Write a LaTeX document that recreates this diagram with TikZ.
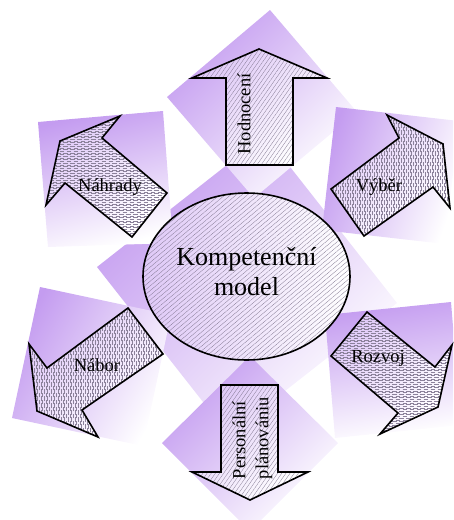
\documentclass[tikz,border=0pt]{standalone}
\usepackage{fontspec}
\setmainfont{Liberation Serif}
\usetikzlibrary{patterns,patterns.meta}
\definecolor{purp}{RGB}{196,156,240}
\definecolor{hatch}{RGB}{120,110,135}
\definecolor{dhatch}{RGB}{140,130,155}
\pgfdeclarepatternformonly{hdash}{\pgfqpoint{-1pt}{-1pt}}{\pgfqpoint{8pt}{4.4pt}}{\pgfqpoint{7pt}{3.4pt}}{%
  \pgfsetlinewidth{0.25pt}%
  \pgfpathmoveto{\pgfqpoint{0pt}{0pt}}\pgfpathlineto{\pgfqpoint{4.5pt}{0pt}}%
  \pgfpathmoveto{\pgfqpoint{3.5pt}{1.7pt}}\pgfpathlineto{\pgfqpoint{7pt}{1.7pt}}%
  \pgfpathmoveto{\pgfqpoint{0pt}{1.7pt}}\pgfpathlineto{\pgfqpoint{1pt}{1.7pt}}%
  \pgfusepath{stroke}}
\pgfdeclarepatternformonly{vdash}{\pgfqpoint{-1pt}{-1pt}}{\pgfqpoint{4.4pt}{8pt}}{\pgfqpoint{3.4pt}{7pt}}{%
  \pgfsetlinewidth{0.25pt}%
  \pgfpathmoveto{\pgfqpoint{0pt}{0pt}}\pgfpathlineto{\pgfqpoint{0pt}{4.5pt}}%
  \pgfpathmoveto{\pgfqpoint{1.7pt}{3.5pt}}\pgfpathlineto{\pgfqpoint{1.7pt}{7pt}}%
  \pgfpathmoveto{\pgfqpoint{1.7pt}{0pt}}\pgfpathlineto{\pgfqpoint{1.7pt}{1pt}}%
  \pgfusepath{stroke}}
\tikzset{
  bgsq/.style={top color=purp, bottom color=white, draw=none},
  arrowbox/.style={line width=1.6pt, draw=black, line join=miter,
     preaction={top color=purp!55!white, bottom color=white, shading angle=45}},
  diaghatch/.style={pattern={Lines[angle=55,distance=3.4pt,line width=0.25pt]}, pattern color=hatch},
  hhatch/.style={pattern=hdash, pattern color=dhatch},
  vhatch/.style={pattern=vdash, pattern color=dhatch},
  lbl/.style={font=\fontsize{18.5}{23}\selectfont, inner sep=0pt},
}
\begin{document}
\begin{tikzpicture}[x=1pt,y=-1pt]
\useasboundingbox (0,0) rectangle (453,520);
\begin{scope}
\clip (0,0) rectangle (453,520);
% central background square
\path[bgsq, shading angle=45] (265,135) -- (97,267) -- (229,435) -- (397,303) -- cycle;
% top and bottom diamonds
\path[bgsq, shading angle=45] (270,10) -- (167,97) -- (254,198) -- (357,112) -- cycle;
\path[bgsq, shading angle=45] (250,356) -- (162,443) -- (250,531) -- (338,443) -- cycle;
% side backgrounds
\path[bgsq, shading angle=15] (38,122) -- (163,111) -- (173,243) -- (48,247) -- cycle;
\path[bgsq, shading angle=70] (336,107) -- (459,121) -- (445,244) -- (322,230) -- cycle;
\path[bgsq, shading angle=60] (40,287) -- (171,315) -- (143,446) -- (12,418) -- cycle;
\path[bgsq, shading angle=10] (325,315) -- (451,302) -- (461,425) -- (335,438) -- cycle;
\end{scope}
% central ellipse
\draw[line width=1.6pt, preaction={left color=purp!55!white, right color=white},
      pattern={Lines[angle=40,distance=3.6pt,line width=0.25pt]}, pattern color=hatch]
      (246.5,276.5) ellipse [x radius=103.5, y radius=83.5];
\node[font=\fontsize{26}{30}\selectfont, align=center, inner sep=0pt] (center) at (246.5,272) {Kompetenční\\model};
% arrows
\draw[arrowbox, diaghatch] (259,49) -- (327,78) -- (293,78) -- (293,165) -- (226,165) -- (226,78) -- (192,78) -- cycle;
\draw[arrowbox, diaghatch] (221,385) -- (278,385) -- (278,472) -- (308,472) -- (250,500) -- (192,472) -- (221,472) -- cycle;
\draw[arrowbox, hhatch] (120,116) -- (102,138) -- (167,193) -- (132,237) -- (65,183) -- (46,205) -- (60,141) -- cycle;
\draw[arrowbox, vhatch] (387,115) -- (399,138) -- (331,189) -- (364,236) -- (433,187) -- (450,208) -- (443,144) -- cycle;
\draw[arrowbox, vhatch] (128,308) -- (163,354) -- (82,410) -- (98,437) -- (37,411) -- (29,344) -- (47,368) -- cycle;
\draw[arrowbox, hhatch] (367,312) -- (435,367) -- (452,345) -- (438,407) -- (380,434) -- (398,413) -- (331,356) -- cycle;
% labels
\node[lbl, rotate=90] (hod) at (244,114) {Hodnocení};
\node[lbl, rotate=90, align=left] (pers) at (252.5,438) {Personální\\plánovániu};
\node[lbl] (nah) at (110,187) {Náhrady};
\node[lbl] (vyb) at (379,187) {Výběr};
\node[lbl] (nab) at (97,365) {Nábor};
\node[lbl] (roz) at (378,358) {Rozvoj};
\end{tikzpicture}
\end{document}
